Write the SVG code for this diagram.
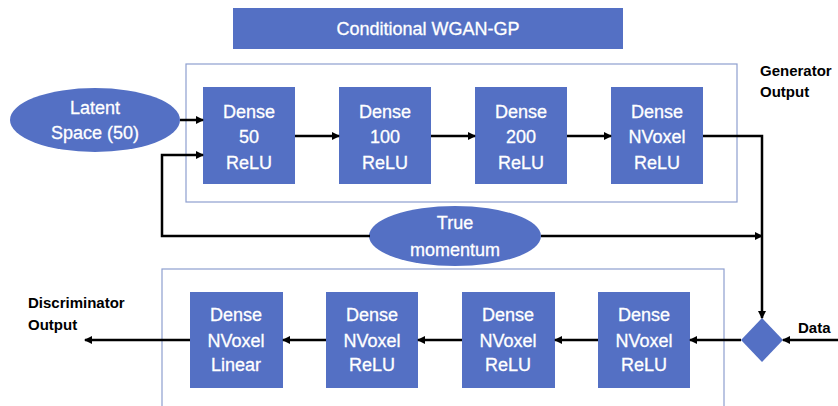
<svg xmlns="http://www.w3.org/2000/svg" width="838" height="406" viewBox="0 0 838 406">
<style>
.box{fill:#5470C4;}
.frame{fill:none;stroke:#8E9FCF;stroke-width:1.2;}
.t{font-family:"Liberation Sans",Arial,sans-serif;font-size:18px;fill:#fff;text-anchor:middle;stroke:#fff;stroke-width:0.3;}
.lbl{font-family:"Liberation Sans",Arial,sans-serif;font-size:15px;font-weight:bold;fill:#000;}
.c{fill:none;stroke:#000;stroke-width:2.5;}
</style>
<defs>
<marker id="ah" markerWidth="8" markerHeight="8" refX="7" refY="4" orient="auto" markerUnits="userSpaceOnUse">
<path d="M0,0 L8,4 L0,8 Z" fill="#000"/>
</marker>
</defs>
<rect width="838" height="406" fill="#fff"/>
<g id="title"><rect class="box" x="233" y="8" width="390" height="41"/><text class="t" x="428" y="35">Conditional WGAN-GP</text></g>
<g id="gen-frame"><rect class="frame" x="186" y="64" width="551" height="138"/></g>
<g id="disc-frame"><rect class="frame" x="162" y="269" width="562" height="160"/></g>
<g id="latent"><ellipse class="box" cx="95" cy="120" rx="85" ry="32"/><text class="t" x="95" y="114">Latent</text><text class="t" x="95" y="139">Space (50)</text></g>
<g id="g1"><rect class="box" x="203" y="87" width="92" height="97"/><text class="t" x="249" y="118">Dense</text><text class="t" x="249" y="143">50</text><text class="t" x="249" y="169">ReLU</text></g>
<g id="g2"><rect class="box" x="339" y="87" width="92" height="97"/><text class="t" x="385" y="118">Dense</text><text class="t" x="385" y="143">100</text><text class="t" x="385" y="169">ReLU</text></g>
<g id="g3"><rect class="box" x="475" y="87" width="92" height="97"/><text class="t" x="521" y="118">Dense</text><text class="t" x="521" y="143">200</text><text class="t" x="521" y="169">ReLU</text></g>
<g id="g4"><rect class="box" x="611" y="87" width="92" height="97"/><text class="t" x="657" y="118">Dense</text><text class="t" x="657" y="143">NVoxel</text><text class="t" x="657" y="169">ReLU</text></g>
<g id="truemom"><ellipse class="box" cx="455" cy="236" rx="86" ry="30"/><text class="t" x="455" y="229">True</text><text class="t" x="455" y="256">momentum</text></g>
<g id="d1"><rect class="box" x="190" y="292" width="93" height="96"/><text class="t" x="236" y="321">Dense</text><text class="t" x="236" y="347">NVoxel</text><text class="t" x="236" y="371">Linear</text></g>
<g id="d2"><rect class="box" x="326" y="292" width="92" height="96"/><text class="t" x="372" y="321">Dense</text><text class="t" x="372" y="347">NVoxel</text><text class="t" x="372" y="371">ReLU</text></g>
<g id="d3"><rect class="box" x="462" y="292" width="93" height="96"/><text class="t" x="508" y="321">Dense</text><text class="t" x="508" y="347">NVoxel</text><text class="t" x="508" y="371">ReLU</text></g>
<g id="d4"><rect class="box" x="598" y="292" width="92" height="96"/><text class="t" x="644" y="321">Dense</text><text class="t" x="644" y="347">NVoxel</text><text class="t" x="644" y="371">ReLU</text></g>
<g id="combine"><path class="box" d="M762,318 L783,340 L762,362 L741,340 Z"/></g>
<g id="labels">
<text class="lbl" x="760" y="76">Generator</text><text class="lbl" x="760" y="97">Output</text>
<text class="lbl" x="28" y="308">Discriminator</text><text class="lbl" x="28" y="330">Output</text>
<text class="lbl" x="798" y="333">Data</text>
</g>
<g id="connectors">
<path class="c" d="M180,120 L203,120" marker-end="url(#ah)"/>
<path class="c" d="M295,136 L339,136" marker-end="url(#ah)"/>
<path class="c" d="M431,136 L475,136" marker-end="url(#ah)"/>
<path class="c" d="M567,136 L611,136" marker-end="url(#ah)"/>
<path class="c" d="M703,136 L762,136 L762,318" marker-end="url(#ah)"/>
<path class="c" d="M370,236 L162,236 L162,155 L203,155" marker-end="url(#ah)"/>
<path class="c" d="M541,236 L762,236" marker-end="url(#ah)"/>
<path class="c" d="M838,340 L783,340" marker-end="url(#ah)"/>
<path class="c" d="M741,340 L690,340" marker-end="url(#ah)"/>
<path class="c" d="M598,340 L555,340" marker-end="url(#ah)"/>
<path class="c" d="M462,340 L418,340" marker-end="url(#ah)"/>
<path class="c" d="M326,340 L283,340" marker-end="url(#ah)"/>
<path class="c" d="M190,340 L85,340" marker-end="url(#ah)"/>
</g>
</svg>
